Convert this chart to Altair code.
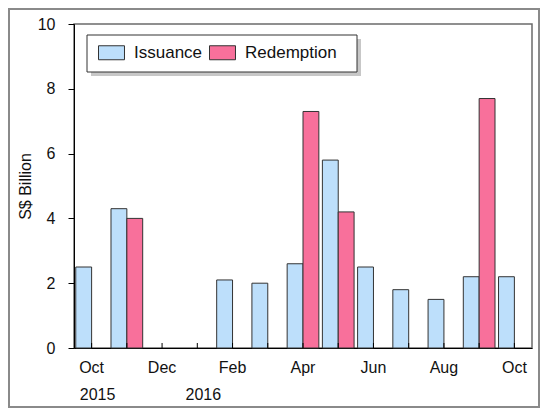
import json
import altair as alt
import pandas as pd

# ---- data ----
months = ["Oct 2015", "Nov 2015", "Dec 2015", "Jan 2016", "Feb 2016", "Mar 2016",
          "Apr 2016", "May 2016", "Jun 2016", "Jul 2016", "Aug 2016", "Sep 2016", "Oct 2016"]
issuance = [2.5, 4.3, 0, 0, 2.1, 2.0, 2.6, 5.8, 2.5, 1.8, 1.5, 2.2, 2.2]
redemption = [0, 4.0, 0, 0, 0, 0, 7.3, 4.2, 0, 0, 0, 7.7, 0]
series = ["Issuance", "Redemption"]
colors = ["#BDDFFB", "#F8709B"]
year_labels = ["2015", "2016"]
year_months = ["Oct 2015", "Jan 2016"]
y_ticks = [0, 2, 4, 6, 8, 10]

W, H = 458, 324
FONT = "Liberation Sans"
TXT = "#111111"

rows = []
for m, i, r in zip(months, issuance, redemption):
    rows.append({"month": m, "series": series[0], "value": i})
    rows.append({"month": m, "series": series[1], "value": r})
df = pd.DataFrame(rows)
df_months = pd.DataFrame({"month": months})
df_years = pd.DataFrame({"month": year_months, "year": year_labels})

label_expr = ("indexof(" + json.dumps(months) +
              ", datum.value) % 2 == 0 ? slice(datum.value, 0, 3) : ''")

x_enc = alt.X(
    "month:N",
    sort=months,
    scale=alt.Scale(domain=months, paddingInner=0.1, paddingOuter=0.05),
    axis=alt.Axis(title=None, labelAngle=0, ticks=False, labelExpr=label_expr,
                  domainColor="#000000", domainWidth=1, labelFont=FONT,
                  labelFontSize=16, labelColor=TXT, labelPadding=11, grid=False),
)

bars = alt.Chart(df).transform_filter("datum.value > 0").mark_bar(
    stroke="#333333", strokeWidth=1
).encode(
    x=x_enc,
    xOffset=alt.XOffset("series:N", scale=alt.Scale(domain=series)),
    y=alt.Y("value:Q", scale=alt.Scale(domain=[0, 10], nice=False),
            axis=alt.Axis(values=y_ticks, title="S$ Billion", grid=False,
                          domainColor="#000000", tickColor="#000000", tickSize=6,
                          labelFont=FONT, labelFontSize=16, labelColor=TXT,
                          labelPadding=13, titleFont=FONT, titleFontSize=16,
                          titleFontWeight="normal", titleColor=TXT, titlePadding=4)),
    color=alt.Color("series:N", scale=alt.Scale(domain=series, range=colors),
                    legend=alt.Legend(
                        orient="none", legendX=13, legendY=10, direction="horizontal",
                        title=None, padding=10,
                        symbolType="M-1.857,-1L1.857,-1L1.857,1L-1.857,1Z",
                        symbolSize=196, symbolStrokeColor="#333333", symbolStrokeWidth=1,
                        symbolOffset=6, labelOffset=14, labelFont=FONT,
                        labelFontSize=17, labelColor=TXT, columnPadding=4)),
)

ticks = alt.Chart(df_months).mark_rule(color="#000000", strokeWidth=1).encode(
    x=x_enc, y=alt.value(H), y2=alt.value(H - 5)
)

years = alt.Chart(df_years).mark_text(
    font=FONT, fontSize=16, color=TXT, dx=6, baseline="middle"
).encode(x=x_enc, y=alt.value(H + 47), text="year:N")

shadow = alt.Chart(alt.Data(values=[{}])).mark_rect(
    fill="#000000", opacity=0.22
).encode(x=alt.value(17), x2=alt.value(287), y=alt.value(15), y2=alt.value(52))

legend_box = alt.Chart(alt.Data(values=[{}])).mark_rect(
    fill="white", stroke="#333333", strokeWidth=1
).encode(x=alt.value(13), x2=alt.value(283), y=alt.value(11), y2=alt.value(48))

border = alt.Chart(alt.Data(values=[{}])).mark_rect(
    fillOpacity=0, stroke="#8a8a8a", strokeWidth=2
).encode(x=alt.value(-65), x2=alt.value(W + 7), y=alt.value(-15), y2=alt.value(H + 59))

chart = alt.layer(border, bars, ticks, years, shadow, legend_box).properties(
    width=W, height=H,
    padding={"left": 66, "top": 16, "right": 9, "bottom": 60},
    autosize=alt.AutoSizeParams(type="none"),
    background="white",
).configure_view(stroke="#6b6b6b", strokeWidth=1.5)

chart.save("out.html", embed_options={"renderer": "svg", "actions": False})
